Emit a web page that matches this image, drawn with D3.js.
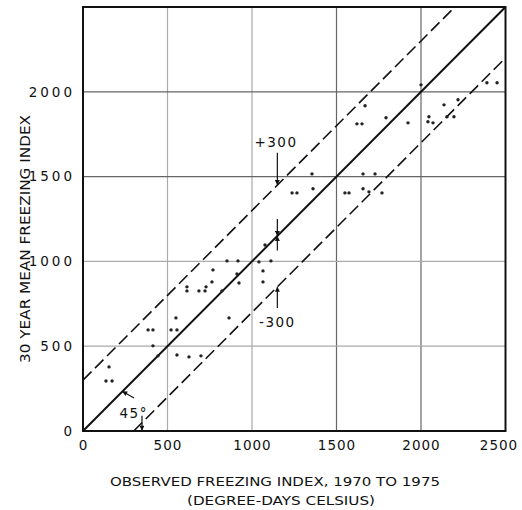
<!DOCTYPE html>
<html>
<head>
<meta charset="utf-8">
<script src="https://cdn.jsdelivr.net/npm/d3@7"></script>
<style>
  body { margin: 0; background: #fff; }
  svg { display: block; }
  text { font-family: "DejaVu Sans", sans-serif; fill: #111; }
</style>
</head>
<body>
<svg id="chart" width="522" height="510"></svg>
<script>
// ticks / grid
var xTicks = [0, 500, 1000, 1500, 2000, 2500];
var yTicks = [0, 500, 1000, 1500, 2000];
var gridVals = [500, 1000, 1500, 2000];

// observed freezing index (x) vs 30 year mean (y)
var observed = [154, 136, 172, 385, 414, 521, 556, 550, 414, 444, 556, 627, 698, 615, 615,
    686, 722, 728, 763, 769, 822, 864, 852, 917, 923, 911, 1041, 1065, 1065, 1077,
    1112, 1355, 1237, 1266, 1361, 1550, 1574, 1657, 1728, 1657, 1692, 1769, 1669, 1621, 1651,
    1793, 1923, 2000, 2047, 2041, 2071, 2136, 2154, 2195, 2219, 2390, 2450];
var mean30 = [378, 295, 295, 596, 596, 596, 596, 667, 502, 443, 448, 437, 443, 850, 826,
    826, 826, 850, 879, 950, 826, 667, 1003, 1003, 873, 926, 997, 944, 879, 1097,
    1003, 1516, 1404, 1404, 1428, 1404, 1404, 1516, 1516, 1428, 1410, 1404, 1918, 1811, 1811,
    1847, 1817, 2041, 1853, 1823, 1817, 1923, 1853, 1853, 1953, 2053, 2053];

// 45 degree line and +/- 300 envelope
var offsets = [0, 300, -300];

// dimension arrows [x1, y1, x2, y2] in data units (head at x2,y2)
var arrows = [
    [1150, 1640, 1150, 1450],
    [1150, 1250, 1150, 1150],
    [1150, 1065, 1150, 1150],
    [1150, 725, 1150, 850],
    [302, 195, 232, 234],
    [349, 90, 349, 2]
];
var notes = [
    { text: "+300", x: 1142, y: 1705 },
    { text: "-300", x: 1150, y: 643 },
    { text: "45°", x: 300, y: 106 }
];

var svg = d3.select("#chart");
var x = d3.scaleLinear().domain([0, 2500]).range([83, 505.5]);
var y = d3.scaleLinear().domain([0, 2500]).range([431, 7]);

var defs = svg.append("defs");
defs.append("marker")
    .attr("id", "head")
    .attr("viewBox", "0 0 10 10")
    .attr("refX", 10).attr("refY", 5)
    .attr("markerWidth", 7).attr("markerHeight", 5)
    .attr("markerUnits", "userSpaceOnUse")
    .attr("orient", "auto")
    .append("path")
    .attr("d", "M0,0L10,5L0,10z")
    .attr("fill", "#111");

var plot = svg.append("g");

// grid
plot.selectAll(".vgrid").data(gridVals).enter().append("line")
    .attr("class", "vgrid")
    .attr("x1", function (d) { return x(d); }).attr("x2", function (d) { return x(d); })
    .attr("y1", y(0)).attr("y2", y(2500))
    .attr("stroke", function (d) { return d >= 1500 ? "#666" : "#aaa"; })
    .attr("stroke-width", 1.2);
plot.selectAll(".hgrid").data(gridVals).enter().append("line")
    .attr("class", "hgrid")
    .attr("y1", function (d) { return y(d); }).attr("y2", function (d) { return y(d); })
    .attr("x1", x(0)).attr("x2", x(2500))
    .attr("stroke", function (d) { return d >= 1500 ? "#666" : "#aaa"; })
    .attr("stroke-width", 1.2);

// diagonal lines, clipped to the frame
function segment(off) {
    var x0 = Math.max(0, -off), x1 = Math.min(2500, 2500 - off);
    return [[x0, x0 + off], [x1, x1 + off]];
}
var line = d3.line().x(function (d) { return x(d[0]); }).y(function (d) { return y(d[1]); });
plot.selectAll(".diag").data(offsets).enter().append("path")
    .attr("class", "diag")
    .attr("d", function (d) { return line(segment(d)); })
    .attr("fill", "none")
    .attr("stroke", "#111")
    .attr("stroke-width", function (d) { return d === 0 ? 2 : 1.6; })
    .attr("stroke-dasharray", function (d) { return d === 0 ? null : "12,5"; });

// points
plot.selectAll(".pt").data(observed).enter().append("circle")
    .attr("class", "pt")
    .attr("cx", function (d) { return x(d); })
    .attr("cy", function (d, i) { return y(mean30[i]); })
    .attr("r", 1.7)
    .attr("fill", "#222");

// annotations
plot.selectAll(".arrow").data(arrows).enter().append("line")
    .attr("class", "arrow")
    .attr("x1", function (d) { return x(d[0]); }).attr("y1", function (d) { return y(d[1]); })
    .attr("x2", function (d) { return x(d[2]); }).attr("y2", function (d) { return y(d[3]); })
    .attr("stroke", "#111").attr("stroke-width", 1.2)
    .attr("marker-end", "url(#head)");
plot.selectAll(".note").data(notes).enter().append("text")
    .attr("class", "note")
    .attr("x", function (d) { return x(d.x); })
    .attr("y", function (d) { return y(d.y); })
    .attr("dy", "0.36em")
    .attr("text-anchor", "middle")
    .attr("font-size", 13.5)
    .attr("letter-spacing", 1.5)
    .text(function (d) { return d.text; });

// frame
svg.append("rect")
    .attr("x", x(0)).attr("y", y(2500))
    .attr("width", x(2500) - x(0)).attr("height", y(0) - y(2500))
    .attr("fill", "none").attr("stroke", "#111").attr("stroke-width", 2);

// axes
var xAxis = svg.append("g")
    .attr("transform", "translate(0," + y(0) + ")")
    .call(d3.axisBottom(x).tickValues(xTicks).tickSize(0).tickPadding(9).tickFormat(d3.format("d")));
var yAxis = svg.append("g")
    .attr("transform", "translate(" + x(0) + ",0)")
    .call(d3.axisLeft(y).tickValues(yTicks).tickSize(0).tickPadding(6).tickFormat(d3.format("d")));
svg.selectAll(".domain").remove();
svg.selectAll(".tick text")
    .attr("font-family", "DejaVu Sans, sans-serif")
    .attr("font-size", 13.5)
    .attr("fill", "#111");
xAxis.selectAll(".tick text")
    .attr("letter-spacing", 1)
    .attr("dx", function (d) { return d === 2500 ? -7 : 0; });
yAxis.selectAll(".tick text")
    .attr("letter-spacing", 3)
    .attr("dx", -2);

// titles
svg.append("text")
    .attr("x", 275).attr("y", 486)
    .attr("text-anchor", "middle")
    .attr("font-size", 13)
    .attr("textLength", 330).attr("lengthAdjust", "spacingAndGlyphs")
    .text("OBSERVED FREEZING INDEX, 1970 TO 1975");
svg.append("text")
    .attr("x", 281).attr("y", 505)
    .attr("text-anchor", "middle")
    .attr("font-size", 13)
    .attr("textLength", 188).attr("lengthAdjust", "spacingAndGlyphs")
    .text("(DEGREE-DAYS CELSIUS)");
svg.append("text")
    .attr("transform", "translate(30,239) rotate(-90)")
    .attr("text-anchor", "middle")
    .attr("font-size", 13.5)
    .attr("textLength", 248).attr("lengthAdjust", "spacingAndGlyphs")
    .text("30 YEAR MEAN FREEZING INDEX");
</script>
</body>
</html>
